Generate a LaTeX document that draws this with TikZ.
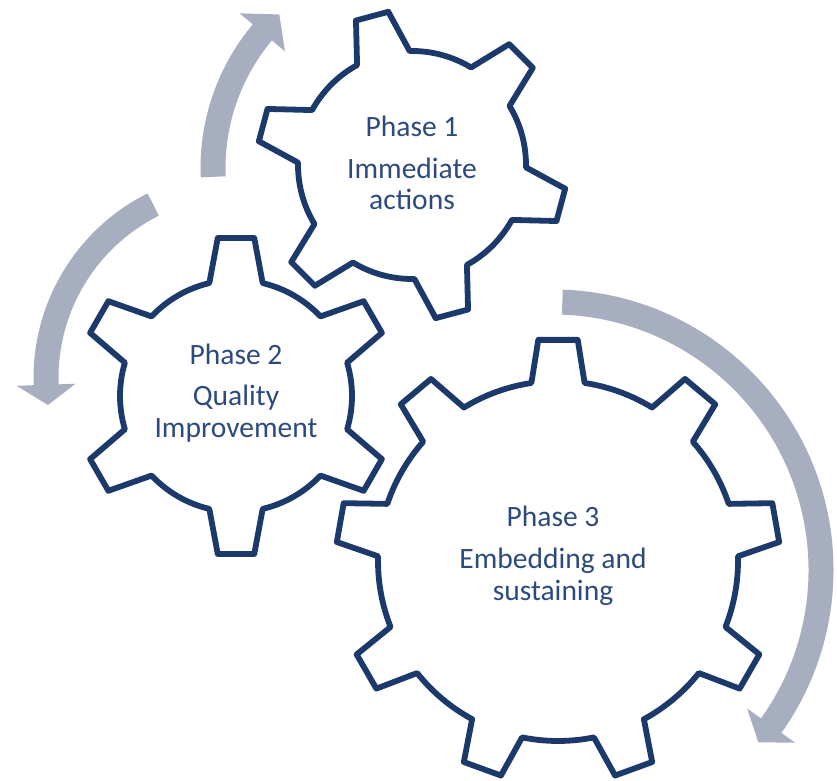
\documentclass[tikz,border=0pt]{standalone}
\usepackage{fontspec}
\setmainfont{Carlito}
\usepackage{tikz}

\definecolor{gearblue}{HTML}{1B3A6B}
\definecolor{textblue}{HTML}{2C4A7E}
\definecolor{arrowgrey}{HTML}{A7AEBF}

% gear outline: teeth, rotation, outer radius, root radius, tip half angle, base half angle
\newcommand{\gearpath}[6]{({#2-#6}:{#4})
  \foreach \k in {1,...,#1} {
    -- ({#2+(\k-1)*360/#1-#5}:{#3}) -- ({#2+(\k-1)*360/#1+#5}:{#3})
    -- ({#2+(\k-1)*360/#1+#6}:{#4})
    arc[start angle={#2+(\k-1)*360/#1+#6}, end angle={#2+\k*360/#1-#6}, radius={#4}]
  } -- cycle}

% curved arrow: start angle, head base angle, tip angle, radius
\newcommand{\turnpath}[4]{({#1}:{#4+12.5})
  arc[start angle={#1}, end angle={#2}, radius={#4+12.5}]
  -- ({#2}:{#4+29.5}) -- ({#3}:{#4}) -- ({#2}:{#4-29.5})
  -- ({#2}:{#4-12.5})
  arc[start angle={#2}, end angle={#1}, radius={#4-12.5}] -- cycle}

\begin{document}
\begin{tikzpicture}[x=0.02cm, y=0.02cm,
     font=\fontsize{16.8}{18.1}\selectfont,
     gear/.style = {draw=gearblue, line width=3.3pt, line join=round},
     phase/.style = {text=textblue, align=center, inner sep=0pt},
     turn/.style = {fill=arrowgrey}]
        \useasboundingbox (0,0) rectangle (837,780);
        \coordinate (g1) at (412,615);
        \coordinate (g2) at (236,384);
        \coordinate (g3) at (558,219);
        % arrows round the gears
        \fill[turn, shift={(424,612)}] \turnpath{182.4}{140}{133.3}{211};
        \fill[turn, shift={(240,402)}] \turnpath{116.6}{182}{188}{194};
        \fill[turn, shift={(553,210)}] \turnpath{88}{-35.5}{-40}{268};
        % gears
        \draw[gear, shift={(g1)}] \gearpath{6}{-15}{155}{114}{6.2}{13.8};
        \draw[gear, shift={(g2)}] \gearpath{6}{90}{159}{116}{6.6}{13.3};
        \draw[gear, shift={(g3)}] \gearpath{9}{90}{222}{180}{5.1}{8.5};
        \node[phase] (phase1) at (412,617)
            {Phase 1\\[5.7pt]Immediate\\actions};
        \node[phase] (phase2) at (236,387)
            {Phase 2\\[5.7pt]Quality\\Improvement};
        \node[phase] (phase3) at (553,224)
            {Phase 3\\[5.7pt]Embedding and\\sustaining};
\end{tikzpicture}
\end{document}
